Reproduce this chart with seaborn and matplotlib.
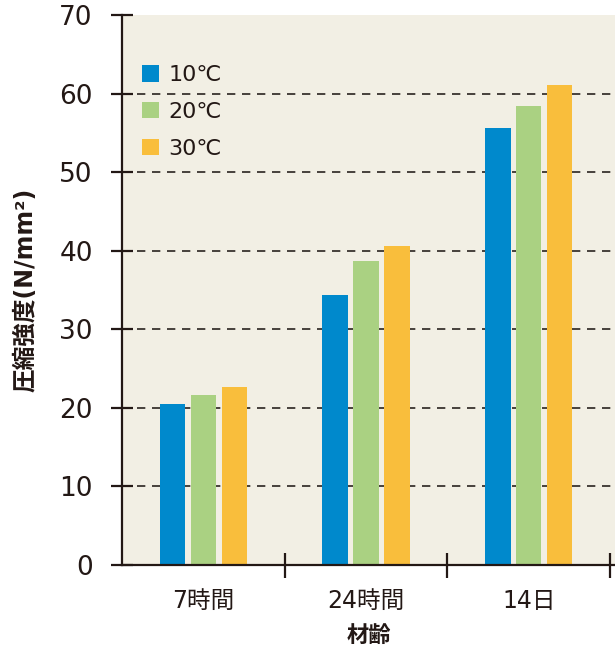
import matplotlib
matplotlib.use("Agg")
import matplotlib.pyplot as plt
import seaborn as sns
import pandas as pd
from matplotlib.ticker import FixedLocator

# Ages and curing temperatures
ages = ["7時間", "24時間", "14日"]
temps = ["10℃", "20℃", "30℃"]
strength_10 = [20.5, 34.4, 55.6]
strength_20 = [21.6, 38.7, 58.4]
strength_30 = [22.6, 40.6, 61.1]
colors = ["#0089cc", "#aad182", "#f9be3c"]
y_ticks = [0, 10, 20, 30, 40, 50, 60, 70]

rows = []
for t, vals in zip(temps, [strength_10, strength_20, strength_30]):
    for a, v in zip(ages, vals):
        rows.append({"age": a, "temp": t, "strength": v})
df = pd.DataFrame(rows)

sns.set_theme(style="white")
plt.rcParams["font.family"] = ["DejaVu Sans", "Noto Sans CJK JP"]
ink = "#231815"

fig = plt.figure(figsize=(6.15, 6.53), dpi=100)
ax = fig.add_axes([122 / 615, 1 - 565 / 653, 1 - 122 / 615, (565 - 15) / 653])
ax.set_facecolor("#f2efe4")

sns.barplot(data=df, x="age", y="strength", hue="temp", order=ages,
            hue_order=temps, palette=colors, width=0.57, gap=0.18,
            saturation=1, linewidth=0, ax=ax, errorbar=None)

ax.set_xlim(-0.5, 2.53)
ax.set_ylim(0, 70)

# dashed reference lines at the inner ticks
ax.hlines(y_ticks[1:-1], -0.5, 2.53, colors="#2a2420", linestyles=(0, (5, 4)),
          linewidth=1.2, zorder=0.5)
ax.set_axisbelow(True)

for side in ["top", "right"]:
    ax.spines[side].set_visible(False)
for side in ["left", "bottom"]:
    ax.spines[side].set_color(ink)
    ax.spines[side].set_linewidth(1.6)

ax.set_yticks(y_ticks)
ax.set_yticklabels([str(v) for v in y_ticks])
ax.tick_params(axis="y", direction="inout", length=16, width=1.6, color=ink,
               labelsize=19, labelcolor=ink, pad=13, left=True)

# category labels centred, tick marks on the group boundaries
ax.xaxis.set_major_locator(FixedLocator([0.5, 1.5, 2.5]))
ax.xaxis.set_minor_locator(FixedLocator([0, 1, 2]))
ax.set_xticklabels([], minor=False)
ax.set_xticklabels(ages, minor=True)
ax.tick_params(axis="x", which="major", direction="inout", length=18,
               width=1.6, color=ink, bottom=True)
ax.tick_params(axis="x", which="minor", length=0, labelsize=17,
               labelcolor=ink, pad=17)

ax.set_xlabel("材齢", fontsize=16, fontweight="bold", color=ink, labelpad=9)
ax.set_ylabel("圧縮強度(N/mm²)", fontsize=17, fontweight="bold", color=ink,
              labelpad=16)

leg = ax.legend(loc="upper left", bbox_to_anchor=(0.0, 0.945), frameon=False,
                fontsize=16, handlelength=0.75, handleheight=0.75,
                handletextpad=0.45, labelspacing=0.75, labelcolor=ink)

fig.savefig("out.png", dpi=100, facecolor="white")
